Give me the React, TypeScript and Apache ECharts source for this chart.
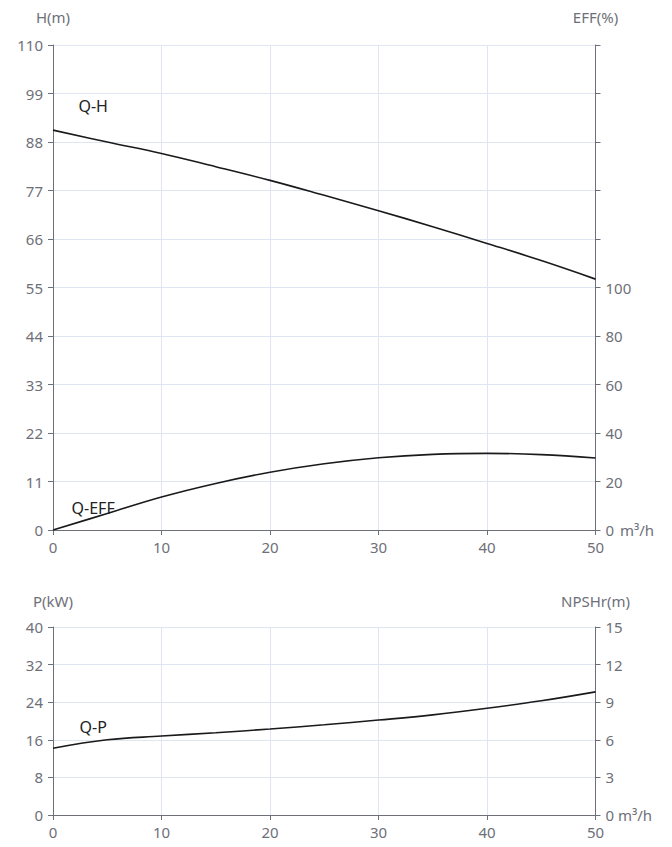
import React, { useEffect, useRef } from "react";
import * as echarts from "echarts";

const flow = [0, 5, 10, 15, 20, 25, 30, 35, 40, 45, 50];
const headH = [90.7, 88.0, 85.4, 82.4, 79.3, 75.9, 72.4, 68.8, 65.0, 61.1, 56.9];
const effQ = [0, 6.8, 13.6, 19.2, 23.8, 27.3, 29.8, 31.2, 31.6, 31.1, 29.7];
const powerP = [14.2, 16.0, 16.8, 17.5, 18.3, 19.2, 20.2, 21.3, 22.7, 24.3, 26.2];

const hTicks = { min: 0, max: 110, interval: 11 };
const effTicks = { min: 0, max: 200, interval: 20, labelMax: 100 };
const pTicks = { min: 0, max: 40, interval: 8 };
const npshTicks = { min: 0, max: 15, interval: 3 };
const xTicks = { min: 0, max: 50, interval: 10 };

const curveLabels = [
  { name: "Q-H", coord: [3.7, 96.1] },
  { name: "Q-EFF", coord: [3.7, 9.1] },
  { name: "Q-P", coord: [3.7, 18.7] },
];

const FONT = "Noto Sans";
const AXIS_COLOR = "#6E7079";
const GRID_COLOR = "#E0E6F1";
const LABEL_SIZE = 15;

function yAxisBase(extra: any) {
  return {
    type: "value",
    axisLine: { show: true, lineStyle: { color: AXIS_COLOR } },
    axisTick: { show: true, lineStyle: { color: AXIS_COLOR } },
    axisLabel: { color: AXIS_COLOR, fontSize: LABEL_SIZE, fontFamily: FONT, margin: 10 },
    nameTextStyle: { color: AXIS_COLOR, fontSize: LABEL_SIZE, fontFamily: FONT },
    nameLocation: "end",
    ...extra,
  };
}

function xAxisBase(gridIndex: number) {
  return {
    type: "value",
    gridIndex,
    min: xTicks.min,
    max: xTicks.max,
    interval: xTicks.interval,
    name: "m³/h",
    nameLocation: "end",
    nameGap: 18.5,
    nameTextStyle: { color: AXIS_COLOR, fontSize: LABEL_SIZE, fontFamily: FONT },
    axisLine: { show: true, onZero: false, lineStyle: { color: AXIS_COLOR } },
    axisTick: { show: true, lineStyle: { color: AXIS_COLOR } },
    axisLabel: { color: AXIS_COLOR, fontSize: LABEL_SIZE, fontFamily: FONT, margin: 9 },
    splitLine: { show: true, lineStyle: { color: GRID_COLOR } },
  };
}

function labelMark(idx: number) {
  const l = curveLabels[idx];
  return {
    symbol: "circle",
    symbolSize: 1,
    itemStyle: { color: "rgba(0,0,0,0)" },
    label: {
      show: true,
      position: "inside",
      formatter: l.name,
      color: "#222",
      fontSize: 16,
      fontFamily: FONT,
    },
    data: [{ coord: l.coord }],
  };
}

export default function App() {
  const ref = useRef<HTMLDivElement>(null);
  useEffect(() => {
    if (!ref.current) return;
    const chart = echarts.init(ref.current, undefined, { renderer: "svg" });
    const lineStyle = { color: "#1a1a1a", width: 1.6 };
    chart.setOption({
      animation: false,
      textStyle: { fontFamily: FONT },
      grid: [
        { left: 53, width: 542.5, top: 45, height: 485 },
        { left: 53, width: 542.5, top: 627, height: 188 },
      ],
      xAxis: [xAxisBase(0), xAxisBase(1)],
      yAxis: [
        yAxisBase({
          gridIndex: 0,
          position: "left",
          name: "H(m)",
          nameGap: 21,
          min: hTicks.min,
          max: hTicks.max,
          interval: hTicks.interval,
          splitLine: { show: true, lineStyle: { color: GRID_COLOR } },
        }),
        yAxisBase({
          gridIndex: 0,
          position: "right",
          name: "EFF(%)",
          nameGap: 21,
          min: effTicks.min,
          max: effTicks.max,
          interval: effTicks.interval,
          splitLine: { show: false },
          axisLabel: {
            color: AXIS_COLOR,
            fontSize: LABEL_SIZE,
            fontFamily: FONT,
            margin: 10,
            formatter: (v: number) => (v <= effTicks.labelMax ? String(v) : ""),
          },
        }),
        yAxisBase({
          gridIndex: 1,
          position: "left",
          name: "P(kW)",
          nameGap: 19,
          min: pTicks.min,
          max: pTicks.max,
          interval: pTicks.interval,
          splitLine: { show: true, lineStyle: { color: GRID_COLOR } },
        }),
        yAxisBase({
          gridIndex: 1,
          position: "right",
          name: "NPSHr(m)",
          nameGap: 19,
          min: npshTicks.min,
          max: npshTicks.max,
          interval: npshTicks.interval,
          splitLine: { show: false },
        }),
      ],
      series: [
        {
          name: "Q-H",
          type: "line",
          xAxisIndex: 0,
          yAxisIndex: 0,
          smooth: 0.4,
          showSymbol: false,
          lineStyle,
          data: flow.map((q, i) => [q, headH[i]]),
          markPoint: labelMark(0),
        },
        {
          name: "Q-EFF",
          type: "line",
          xAxisIndex: 0,
          yAxisIndex: 1,
          smooth: 0.4,
          showSymbol: false,
          lineStyle,
          data: flow.map((q, i) => [q, effQ[i]]),
          markPoint: labelMark(1),
        },
        {
          name: "Q-P",
          type: "line",
          xAxisIndex: 1,
          yAxisIndex: 2,
          smooth: 0.4,
          showSymbol: false,
          lineStyle,
          data: flow.map((q, i) => [q, powerP[i]]),
          markPoint: labelMark(2),
        },
      ],
    });
    return () => chart.dispose();
  }, []);
  return (
    <div
      ref={ref}
      style={{ position: "fixed", left: 0, top: 0, width: 672, height: 847, background: "#fff" }}
    />
  );
}
